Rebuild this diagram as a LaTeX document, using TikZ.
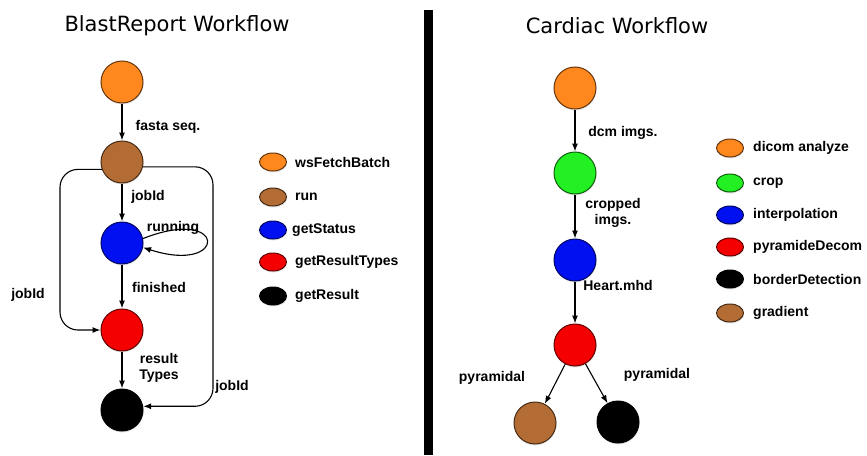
\documentclass[tikz,border=0pt]{standalone}
\usepackage{fontspec}
\setmainfont{Liberation Sans}
\newfontfamily\headfont{DejaVu Sans}
\usetikzlibrary{arrows.meta,shadows,shapes.geometric}
\definecolor{orng}{RGB}{255,136,30}
\definecolor{brwn}{RGB}{178,108,52}
\definecolor{blu}{RGB}{0,16,240}
\definecolor{rd}{RGB}{245,0,0}
\definecolor{grn}{RGB}{34,240,34}

\begin{document}
\begin{tikzpicture}[x=1pt,y=-1pt,
	ball/.style={circle,minimum size=42pt,inner sep=0pt,line width=1pt,fill=#1,draw=#1!40!black,
		drop shadow={opacity=.2,shadow xshift=.5pt,shadow yshift=-1.5pt}},
	key/.style={ellipse,minimum width=27pt,minimum height=18pt,inner sep=0pt,line width=1pt,fill=#1,draw=#1!40!black,
		drop shadow={opacity=.2,shadow xshift=.5pt,shadow yshift=-1.5pt}},
	lbl/.style={font=\bfseries\fontsize{14}{15.5}\selectfont,inner sep=0pt,align=center},
	head/.style={font=\headfont\fontsize{21}{24}\selectfont,inner sep=0pt},
	flow/.style={line width=1.1pt,-{Latex[length=8pt,width=6pt]}}]
	\useasboundingbox (0,0) rectangle (867,455);
	\fill (424,10) rectangle (433,455);

	\node[head] (blast) at (177,26) {BlastReport Workflow};
	\node[ball=orng] (fetch) at (122,82) {};
	\node[ball=brwn] (run) at (122,162) {};
	\node[ball=blu] (status) at (122,243) {};
	\node[ball=rd] (types) at (122,330) {};
	\node[ball=black] (result) at (122,410) {};
	\draw[flow] (fetch) -- (run);
	\draw[flow] (run) -- (status);
	\draw[flow] (status) -- (types);
	\draw[flow] (types) -- (result);
	\draw[flow] (status.12) .. controls (228,205) and (228,275) .. (status.-12);
	\draw[flow,rounded corners=18pt] (run.200) -| (60,250) |- (types.west);
	\draw[flow,rounded corners=18pt] (run.-13) -| (213,300) |- (result.10);
	\node[lbl] (fasta) at (168,127) {fasta seq.};
	\node[lbl] (job1) at (148,197) {jobId};
	\node[lbl] (running) at (173,228) {running};
	\node[lbl] (finished) at (159,287) {finished};
	\node[lbl] (restypes) at (159,368) {result\\Types};
	\node[lbl] (job2) at (28,295) {jobId};
	\node[lbl] (job3) at (232,387) {jobId};

	\node[key=orng] (kfetch) at (273,162) {};
	\node[key=brwn] (krun) at (273,197) {};
	\node[key=blu] (kstatus) at (273,230) {};
	\node[key=rd] (ktypes) at (273,262) {};
	\node[key=black] (kresult) at (273,296) {};
	\node[lbl,anchor=west] at (295,162) {wsFetchBatch};
	\node[lbl,anchor=west] at (295,197) {run};
	\node[lbl,anchor=west] at (292,230) {getStatus};
	\node[lbl,anchor=west] at (295,262) {getResultTypes};
	\node[lbl,anchor=west] at (295,296) {getResult};

	\node[head] (cardiac) at (617,26) {Cardiac Workflow};
	\node[ball=orng] (dicom) at (575,88) {};
	\node[ball=grn] (crop) at (575,173) {};
	\node[ball=blu] (interp) at (575,260) {};
	\node[ball=rd] (pyr) at (575,345) {};
	\node[ball=brwn] (grad) at (535,423) {};
	\node[ball=black] (border) at (618,422) {};
	\draw[flow] (dicom) -- (crop);
	\draw[flow] (crop) -- (interp);
	\draw[flow] (interp) -- (pyr);
	\draw[flow] (pyr) -- (grad);
	\draw[flow] (pyr) -- (border);
	\node[lbl] (dcm) at (623,133) {dcm imgs.};
	\node[lbl] (cropped) at (613,213) {cropped\\imgs.};
	\node[lbl] (heart) at (618,285) {Heart.mhd};
	\node[lbl] (pyrl) at (492,378) {pyramidal};
	\node[lbl] (pyrr) at (657,375) {pyramidal};

	\node[key=orng] (kdicom) at (730,148) {};
	\node[key=grn] (kcrop) at (730,183) {};
	\node[key=blu] (kinterp) at (730,215) {};
	\node[key=rd] (kpyr) at (730,247) {};
	\node[key=black] (kborder) at (730,279) {};
	\node[key=brwn] (kgrad) at (730,313) {};
	\node[lbl,anchor=west] at (753,148) {dicom analyze};
	\node[lbl,anchor=west] at (753,183) {crop};
	\node[lbl,anchor=west] at (753,215) {interpolation};
	\node[lbl,anchor=west] at (753,247) {pyramideDecom};
	\node[lbl,anchor=west] at (753,279) {borderDetection};
	\node[lbl,anchor=west] at (753,313) {gradient};
\end{tikzpicture}
\end{document}
